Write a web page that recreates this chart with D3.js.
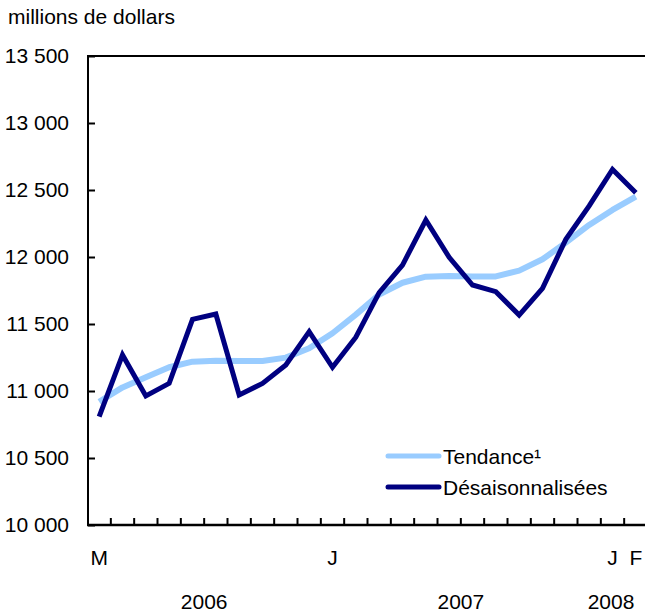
<!DOCTYPE html>
<html>
<head>
<meta charset="utf-8">
<script src="https://cdn.jsdelivr.net/npm/d3@7"></script>
<style>
  body { margin: 0; background: #fff; }
  text { font-family: "Liberation Sans", Arial, Helvetica, sans-serif; fill: #000; }
</style>
</head>
<body>
<div id="chart"></div>
<script>
var width = 645;
var height = 613;

// months from March 2006 to February 2008
var months = ["M","A","M","J","J","A","S","O","N","D",
              "J","F","M","A","M","J","J","A","S","O","N","D",
              "J","F"];
var monthLabels = ["M","","","","","","","","","",
                   "J","","","","","","","","","","","",
                   "J","F"];
var years = ["2006","2007","2008"];
var yearStart = [0, 10, 22];
var yearEnd = [9, 21, 23];

var tendance = [10920, 11027, 11102, 11177, 11219, 11226, 11224, 11224, 11249, 11319,
                11431, 11570, 11720, 11808, 11853, 11858, 11855, 11855, 11898, 11983,
                12107, 12239, 12351, 12450];
var desaison = [10808, 11269, 10963, 11057, 11535, 11575, 10970, 11057, 11194, 11443,
                11177, 11401, 11734, 11940, 12276, 11998, 11791, 11741, 11567, 11766,
                12132, 12381, 12654, 12480];

var yTicks = [10000, 10500, 11000, 11500, 12000, 12500, 13000, 13500];
var seriesNames = ["Tendance\u00b9", "Désaisonnalisées"];
var seriesColors = ["#99ccff", "#000080"];

// plot area (note: "top" is reserved on window, so use other names)
var plotL = 88, plotR = 648, plotT = 56, plotB = 525;
var fontSize = "21px";

var svg = d3.select("#chart")
    .append("svg")
    .attr("width", width)
    .attr("height", height);

var x = d3.scaleBand()
    .domain(d3.range(months.length))
    .range([plotL - 0.5, plotR - 0.5]);

var y = d3.scaleLinear()
    .domain([10000, 13500])
    .range([plotB, plotT]);

function fmt(v) {
    // thousands with a space, french style
    var s = String(v);
    return s.slice(0, s.length - 3) + " " + s.slice(s.length - 3);
}

svg.append("text")
    .attr("x", 8)
    .attr("y", 24)
    .style("font-size", fontSize)
    .text("millions de dollars");

// left axis
var yAxis = svg.append("g")
    .attr("transform", "translate(" + plotL + ",0)")
    .call(d3.axisLeft(y).tickValues(yTicks).tickSize(-7).tickPadding(19).tickFormat(fmt));
yAxis.select(".domain").remove();
yAxis.selectAll("line").attr("stroke", "#000").attr("stroke-width", 2);
yAxis.selectAll("text").style("font-size", fontSize).attr("font-family", null);

// frame: left, top, bottom
svg.append("path")
    .attr("d", "M" + plotL + "," + plotB + "V" + plotT + "H" + width)
    .attr("fill", "none")
    .attr("stroke", "#000")
    .attr("stroke-width", 2);
svg.append("line")
    .attr("x1", plotL - 1).attr("x2", width)
    .attr("y1", plotB).attr("y2", plotB)
    .attr("stroke", "#000")
    .attr("stroke-width", 2.5);

// x ticks between months
svg.selectAll(".xtick")
    .data(d3.range(1, months.length))
    .enter()
    .append("line")
    .attr("class", "xtick")
    .attr("x1", function(d) { return x(d); })
    .attr("x2", function(d) { return x(d); })
    .attr("y1", plotB)
    .attr("y2", plotB - 7)
    .attr("stroke", "#000")
    .attr("stroke-width", 2);

svg.selectAll(".mlabel")
    .data(d3.range(months.length))
    .enter()
    .append("text")
    .attr("class", "mlabel")
    .attr("x", function(d) { return x(d) + x.bandwidth() / 2; })
    .attr("y", 565)
    .attr("text-anchor", "middle")
    .style("font-size", fontSize)
    .text(function(d) { return monthLabels[d]; });

svg.selectAll(".ylabel")
    .data(years)
    .enter()
    .append("text")
    .attr("class", "ylabel")
    .attr("x", function(d, i) {
        var c = (x(yearStart[i]) + x(yearEnd[i]) + x.bandwidth()) / 2;
        return Math.min(c, 611);
    })
    .attr("y", 609)
    .attr("text-anchor", "middle")
    .style("font-size", fontSize)
    .text(function(d) { return d; });

var line = d3.line()
    .x(function(d, i) { return x(i) + x.bandwidth() / 2; })
    .y(function(d) { return y(d); });

svg.append("path")
    .datum(tendance)
    .attr("d", line)
    .attr("fill", "none")
    .attr("stroke", seriesColors[0])
    .attr("stroke-width", 6)
    .attr("stroke-linejoin", "round");

svg.append("path")
    .datum(desaison)
    .attr("d", line)
    .attr("fill", "none")
    .attr("stroke", seriesColors[1])
    .attr("stroke-width", 5)
    .attr("stroke-linejoin", "miter");

// legend
var legend = svg.selectAll(".legend")
    .data(seriesNames)
    .enter()
    .append("g")
    .attr("class", "legend")
    .attr("transform", function(d, i) { return "translate(388," + (456 + i * 31) + ")"; });

legend.append("line")
    .attr("x1", 0).attr("x2", 51)
    .attr("y1", 0).attr("y2", 0)
    .attr("stroke", function(d, i) { return seriesColors[i]; })
    .attr("stroke-width", 5)
    .attr("stroke-linecap", "round");

legend.append("text")
    .attr("x", 55)
    .attr("y", 7.5)
    .style("font-size", fontSize)
    .text(function(d) { return d; });
</script>
</body>
</html>
